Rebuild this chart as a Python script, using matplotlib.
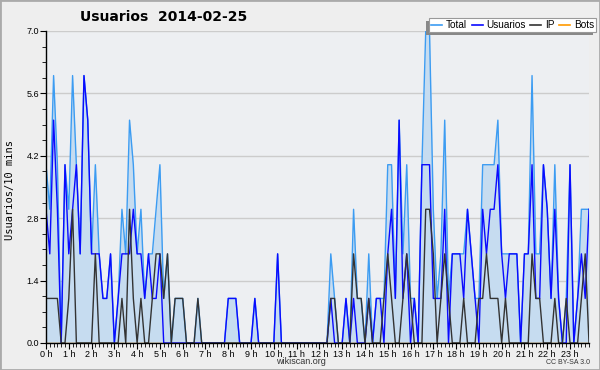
import numpy as np
import matplotlib
matplotlib.use("Agg")
import matplotlib.pyplot as plt
from matplotlib.ticker import MultipleLocator, FixedLocator
from matplotlib.lines import Line2D
from matplotlib.patches import Rectangle

plt.rcParams["font.family"] = ["Liberation Sans", "DejaVu Sans"]

# 10-minute buckets over 2014-02-25 (144 values)
usuarios = [3, 2, 5, 3, 0, 4, 2, 3, 4, 2, 6, 5, 2,
            2, 2, 1, 1, 2, 0, 1, 2,
            2, 2, 3, 2, 2, 1, 2, 1, 1, 2, 0,
            0, 0, 0, 0, 0, 0, 0, 0, 0, 0, 0, 0, 0, 0, 0, 0,
            1, 1, 1,
            0, 0, 0, 0,
            1,
            0, 0, 0, 0, 0,
            2,
            0, 0, 0, 0, 0, 0, 0, 0, 0, 0, 0, 0, 0,
            1, 0, 0, 0, 1, 0, 1, 0, 0, 0, 1, 0, 1, 1, 0,
            2, 3, 1, 5, 1, 2, 0, 1, 0,
            4, 4, 4, 1, 1, 1, 3, 0, 2, 2, 2, 1,
            3, 2, 1, 0, 3, 2, 3, 3, 4, 2, 1, 2, 2, 2, 0, 2, 2,
            4, 1, 1, 4, 3, 1, 3, 1, 0, 0, 4, 0, 1, 2, 1, 3]

ip = [1, 1, 1, 1, 0, 0, 1, 3, 0, 0, 0, 0, 0,
      2, 0, 0, 0, 0, 0, 0, 1,
      0, 3, 1, 0, 1, 0, 0, 1, 2, 2, 1,
      2, 0, 1, 1, 1, 0, 0, 0, 1,
      0, 0, 0, 0, 0, 0, 0, 0, 0, 0, 0, 0, 0, 0, 0, 0, 0,
      0, 0, 0, 0, 0, 0, 0, 0, 0, 0, 0, 0, 0, 0, 0, 0, 0,
      1, 1, 0, 0, 0, 0, 2, 1, 1, 0, 1, 0, 0, 0, 1,
      2, 1, 0, 0, 1, 2, 1, 0, 0, 0,
      3, 3, 2, 0, 1, 2, 1, 0, 0, 0, 1,
      0, 0, 0, 1, 1, 2, 1, 1, 1, 0, 1, 0, 0, 0, 0, 0, 0,
      2, 1, 1, 0, 0, 0, 1, 0, 0, 1, 0, 0, 0, 1, 2, 0]

total = [4, 3, 6, 4, 0, 4, 3, 6, 4, 2, 6, 5, 2,
         4, 2, 1, 1, 2, 0, 1, 3,
         2, 5, 4, 2, 3, 1, 2, 2, 3, 4, 1,
         2, 0, 1, 1, 1, 0, 0, 0, 1,
         0, 0, 0, 0, 0, 0, 0,
         1, 1, 1, 0, 0, 0, 0, 1, 0, 0, 0, 0, 0, 2,
         0, 0, 0, 0, 0, 0, 0, 0, 0, 0, 0, 0, 0,
         2, 1, 0, 0, 1, 0, 3, 1, 1, 0, 2, 0, 1, 1, 1,
         4, 4, 1, 5, 2, 4, 1, 1, 0,
         4, 7, 7, 3, 1, 2, 5, 1, 2, 2, 2, 2,
         3, 2, 1, 1, 4, 4, 4, 4, 5, 2, 2, 2, 2, 2, 0, 2, 2,
         6, 2, 2, 4, 3, 1, 4, 1, 0, 1, 4, 0, 1, 3, 3, 3]

bots = [0] * 144

hour_labels = [f"{h} h" for h in range(24)]
y_ticks = [0.0, 1.4, 2.8, 4.2, 5.6, 7.0]

W, H = 600, 370
fig = plt.figure(figsize=(W / 100, H / 100), dpi=100, facecolor="#eeeeee")
ax = fig.add_axes([46 / W, 1 - 343 / H, (589 - 46) / W, (343 - 31) / H])
ax.set_facecolor("#edeff2")

x = np.arange(len(total))
ax.fill_between(x, total, color="#c6dcf0", lw=0, zorder=1.5)
ax.plot(x, bots, color="#ff9900", lw=1, zorder=1.6)
ax.plot(x, total, color="#3c9cf2", lw=1.0, zorder=2)
ax.plot(x, usuarios, color="#0a0aff", lw=1.0, zorder=2.1)
ax.plot(x, ip, color="#333333", lw=1.0, zorder=2.2)

ax.set_xlim(0, 143)
ax.set_ylim(0, 7)
ax.set_yticks(y_ticks)
ax.set_yticklabels([f"{v:.1f}" for v in y_ticks])
ax.yaxis.set_minor_locator(MultipleLocator(0.35))
ax.xaxis.set_major_locator(FixedLocator(np.arange(0, 144, 6)))
ax.set_xticklabels(hour_labels)
ax.xaxis.set_minor_locator(MultipleLocator(1))
ax.grid(axis="y", color="#cccccc", lw=1)
ax.set_axisbelow(True)
for s in ("top", "right"):
    ax.spines[s].set_visible(False)
for s in ("left", "bottom"):
    ax.spines[s].set_color("black")
    ax.spines[s].set_linewidth(1)
ax.tick_params(axis="both", which="major", direction="out", length=4, width=0.8,
               labelsize=6.5, pad=1, colors="black")
ax.tick_params(axis="both", which="minor", direction="out", length=3, width=0.6)

fig.text(80 / W, 1 - 17 / H, "Usuarios  2014-02-25", fontsize=10, fontweight="bold",
         ha="left", va="center", family=["DejaVu Sans"])
fig.text(10 / W, 1 - 190 / H, "Usuarios/10 mins", rotation=90, fontsize=7.5,
         family=["DejaVu Sans Mono"], ha="center", va="center")
fig.text(301 / W, 1 - 362 / H, "wikiscan.org", fontsize=6.5, ha="center", va="center",
         color="#333333")
fig.text(590 / W, 1 - 363 / H, "CC BY-SA 3.0", fontsize=5, ha="right", va="center",
         color="#333333")

handles = [Line2D([], [], color="#3c9cf2", lw=1.2),
           Line2D([], [], color="#0a0aff", lw=1.2),
           Line2D([], [], color="#333333", lw=1.2),
           Line2D([], [], color="#ff9900", lw=1.2)]
leg = fig.legend(handles, ["Total", "Usuarios", "IP", "Bots"], ncol=4,
                 loc="upper right", bbox_to_anchor=(598 / W, 1 - 16 / H),
                 fontsize=7.2, handlelength=1.1, handletextpad=0.35, columnspacing=0.5,
                 frameon=True, fancybox=False, edgecolor="#999999", borderpad=0.2,
                 borderaxespad=0.2, framealpha=1, facecolor="white")
leg.get_frame().set_linewidth(0.8)
leg.set_zorder(10)

fig.canvas.draw()
bb = leg.get_window_extent()
fig.patches.append(Rectangle((bb.x0 - 3, bb.y0 - 3), bb.width, bb.height,
                             transform=None, facecolor="#888888", edgecolor="none",
                             zorder=9))
fig.patches.append(Rectangle((0, 0), 1, 1, transform=fig.transFigure, fill=False,
                             edgecolor="#aaaaaa", lw=2, zorder=20))

fig.savefig("out.png", dpi=100, facecolor=fig.get_facecolor())
